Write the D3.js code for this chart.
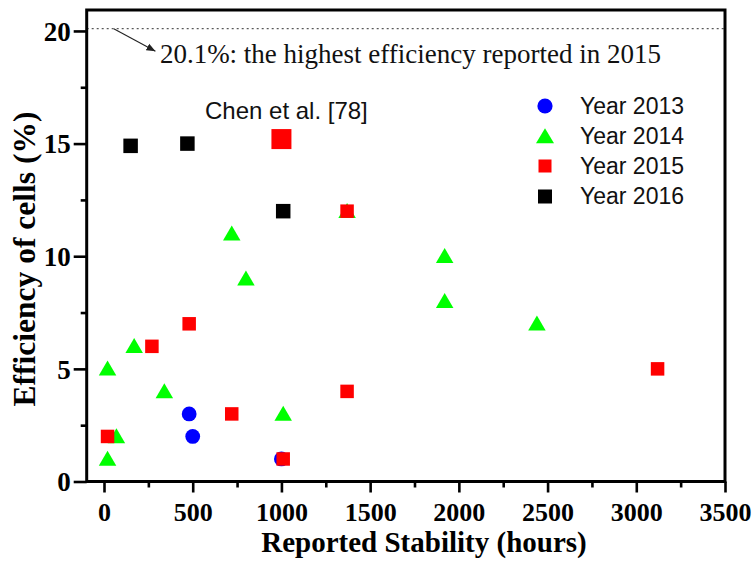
<!DOCTYPE html>
<html>
<head>
<meta charset="utf-8">
<script src="https://cdn.jsdelivr.net/npm/d3@7"></script>
<style>
  html, body { margin: 0; padding: 0; background: #fff; }
  svg { display: block; }
</style>
</head>
<body>
<svg id="chart" width="753" height="568"></svg>
<script>
// ---- data ----
const seriesNames = ["Year 2013", "Year 2014", "Year 2015", "Year 2016"];
const hours2013 = [480, 500, 1000];
const eff2013   = [3, 2, 1];
const hours2014 = [20, 20, 70, 170, 340, 720, 800, 1010, 1370, 1920, 1920, 2440];
const eff2014   = [5, 1, 2, 6, 4, 11, 9, 3, 12, 10, 8, 7];
const hours2015 = [20, 270, 480, 720, 1010, 1370, 1370, 3120];
const eff2015   = [2, 6, 7, 3, 1, 4, 12, 5];
const hoursChen = [1000];
const effChen   = [15.2];
const hours2016 = [150, 470, 1010];
const eff2016   = [14.9, 15, 12];
const xTicks = [0, 500, 1000, 1500, 2000, 2500, 3000, 3500];
const xMinor = [250, 750, 1250, 1750, 2250, 2750, 3250];
const yTicks = [0, 5, 10, 15, 20];
const yMinor = [2.5, 7.5, 12.5, 17.5];
const recordEff = 20.1;
const recordText = "20.1%: the highest efficiency reported in 2015";
const chenText = "Chen et al. [78]";
const xTitle = "Reported Stability (hours)";
const yTitle = "Efficiency of cells (%)";

// ---- layout ----
const svg = d3.select("#chart");
const L = 86.7, R = 725, T = 10, B = 481.5;
const x = d3.scaleLinear().domain([-97.5, 3500]).range([L, R]);
const y = d3.scaleLinear().domain([0, 20.93]).range([B, T]);
const serif = "'Liberation Serif', 'Times New Roman', serif";
const sans = "'Liberation Sans', Arial, sans-serif";

const colors = { c2013: "#0000ff", c2014: "#00ff00", c2015: "#ff0000", c2016: "#000000" };

// dotted record line
svg.append("line")
  .attr("x1", L).attr("x2", R)
  .attr("y1", y(recordEff)).attr("y2", y(recordEff))
  .attr("stroke", "#333").attr("stroke-width", 1).attr("stroke-dasharray", "2,3");

// arrow
const defs = svg.append("defs");
defs.append("marker").attr("id", "arr").attr("viewBox", "0 0 10 10")
  .attr("refX", 10).attr("refY", 5).attr("markerWidth", 9).attr("markerHeight", 9)
  .attr("markerUnits", "userSpaceOnUse").attr("orient", "auto")
  .append("path").attr("d", "M0,1 L10,5 L0,9 Z").attr("fill", "#222");
svg.append("line")
  .attr("x1", x(55)).attr("y1", y(recordEff))
  .attr("x2", x(290)).attr("y2", y(19.1))
  .attr("stroke", "#222").attr("stroke-width", 1.1)
  .attr("marker-end", "url(#arr)");

svg.append("text")
  .attr("x", x(315)).attr("y", y(18.57))
  .attr("font-family", serif).attr("font-size", 27).attr("fill", "#111")
  .text(recordText);

svg.append("text")
  .attr("x", 205).attr("y", y(16.08))
  .attr("font-family", sans).attr("font-size", 24).attr("fill", "#111")
  .text(chenText);

// axes
const gx = svg.append("g").attr("transform", `translate(0,${B})`);
gx.call(d3.axisBottom(x).tickValues(xTicks).tickSize(11).tickPadding(10).tickFormat(d3.format("d")));
const gxm = svg.append("g").attr("transform", `translate(0,${B})`);
gxm.call(d3.axisBottom(x).tickValues(xMinor).tickSize(6).tickFormat(""));
const gy = svg.append("g").attr("transform", `translate(${L},0)`);
gy.call(d3.axisLeft(y).tickValues(yTicks).tickSize(13).tickPadding(3).tickFormat(d3.format("d")));
const gym = svg.append("g").attr("transform", `translate(${L},0)`);
gym.call(d3.axisLeft(y).tickValues(yMinor).tickSize(6).tickFormat(""));

[gx, gxm, gy, gym].forEach(g => {
  g.select(".domain").remove();
  g.selectAll(".tick line").attr("stroke", "#000").attr("stroke-width", 2.6);
  g.selectAll("text").attr("font-family", serif).attr("font-weight", "bold")
    .attr("font-size", 26).attr("fill", "#000");
});
gy.selectAll("text").attr("font-size", 27).attr("dy", "0.34em");

// frame
svg.append("rect").attr("x", L).attr("y", T).attr("width", R - L).attr("height", B - T)
  .attr("fill", "none").attr("stroke", "#000").attr("stroke-width", 3);

// axis titles
svg.append("text").attr("x", 424).attr("y", 552)
  .attr("text-anchor", "middle").attr("font-family", serif).attr("font-weight", "bold")
  .attr("font-size", 29).attr("fill", "#000").text(xTitle);
svg.append("text").attr("transform", "translate(35,259) rotate(-90)")
  .attr("text-anchor", "middle").attr("font-family", serif).attr("font-weight", "bold")
  .attr("font-size", 31.5).attr("fill", "#000").text(yTitle);

// marker shapes
const triPath = (w, h) => `M0,${-h * 0.55} L${w / 2},${h * 0.45} L${-w / 2},${h * 0.45} Z`;
const plot = svg.append("g");

function zip(xs, ys) { return xs.map((h, i) => ({ h, e: ys[i] })); }

plot.selectAll("circle.s13").data(zip(hours2013, eff2013)).join("circle")
  .attr("cx", d => x(d.h)).attr("cy", d => y(d.e)).attr("r", 7.4).attr("fill", colors.c2013);

plot.selectAll("path.s14").data(zip(hours2014, eff2014)).join("path")
  .attr("transform", d => `translate(${x(d.h)},${y(d.e)})`)
  .attr("d", triPath(17.5, 15)).attr("fill", colors.c2014);

const sq = (g, data, size, color) => g.selectAll(null).data(data).join("rect")
  .attr("x", d => x(d.h) - size / 2).attr("y", d => y(d.e) - size / 2)
  .attr("width", size).attr("height", size).attr("fill", color);

sq(plot, zip(hours2015, eff2015), 13.5, colors.c2015);
sq(plot, zip(hoursChen, effChen), 20, colors.c2015);
sq(plot, zip(hours2016, eff2016), 14.5, colors.c2016);

// legend
const legend = svg.append("g");
const legY = [106, 136.5, 166, 196.5];
const lx = 545;
legend.append("circle").attr("cx", lx).attr("cy", legY[0]).attr("r", 7.6).attr("fill", colors.c2013);
legend.append("path").attr("transform", `translate(${lx},${legY[1]})`).attr("d", triPath(18, 15)).attr("fill", colors.c2014);
legend.append("rect").attr("x", lx - 6.5).attr("y", legY[2] - 6.5).attr("width", 13).attr("height", 13).attr("fill", colors.c2015);
legend.append("rect").attr("x", lx - 7).attr("y", legY[3] - 7).attr("width", 14).attr("height", 14).attr("fill", colors.c2016);
legend.selectAll("text").data(seriesNames).join("text")
  .attr("x", 580).attr("y", (d, i) => legY[i] + 7.5)
  .attr("font-family", sans).attr("font-size", 23).attr("fill", "#111")
  .text(d => d);
</script>
</body>
</html>
